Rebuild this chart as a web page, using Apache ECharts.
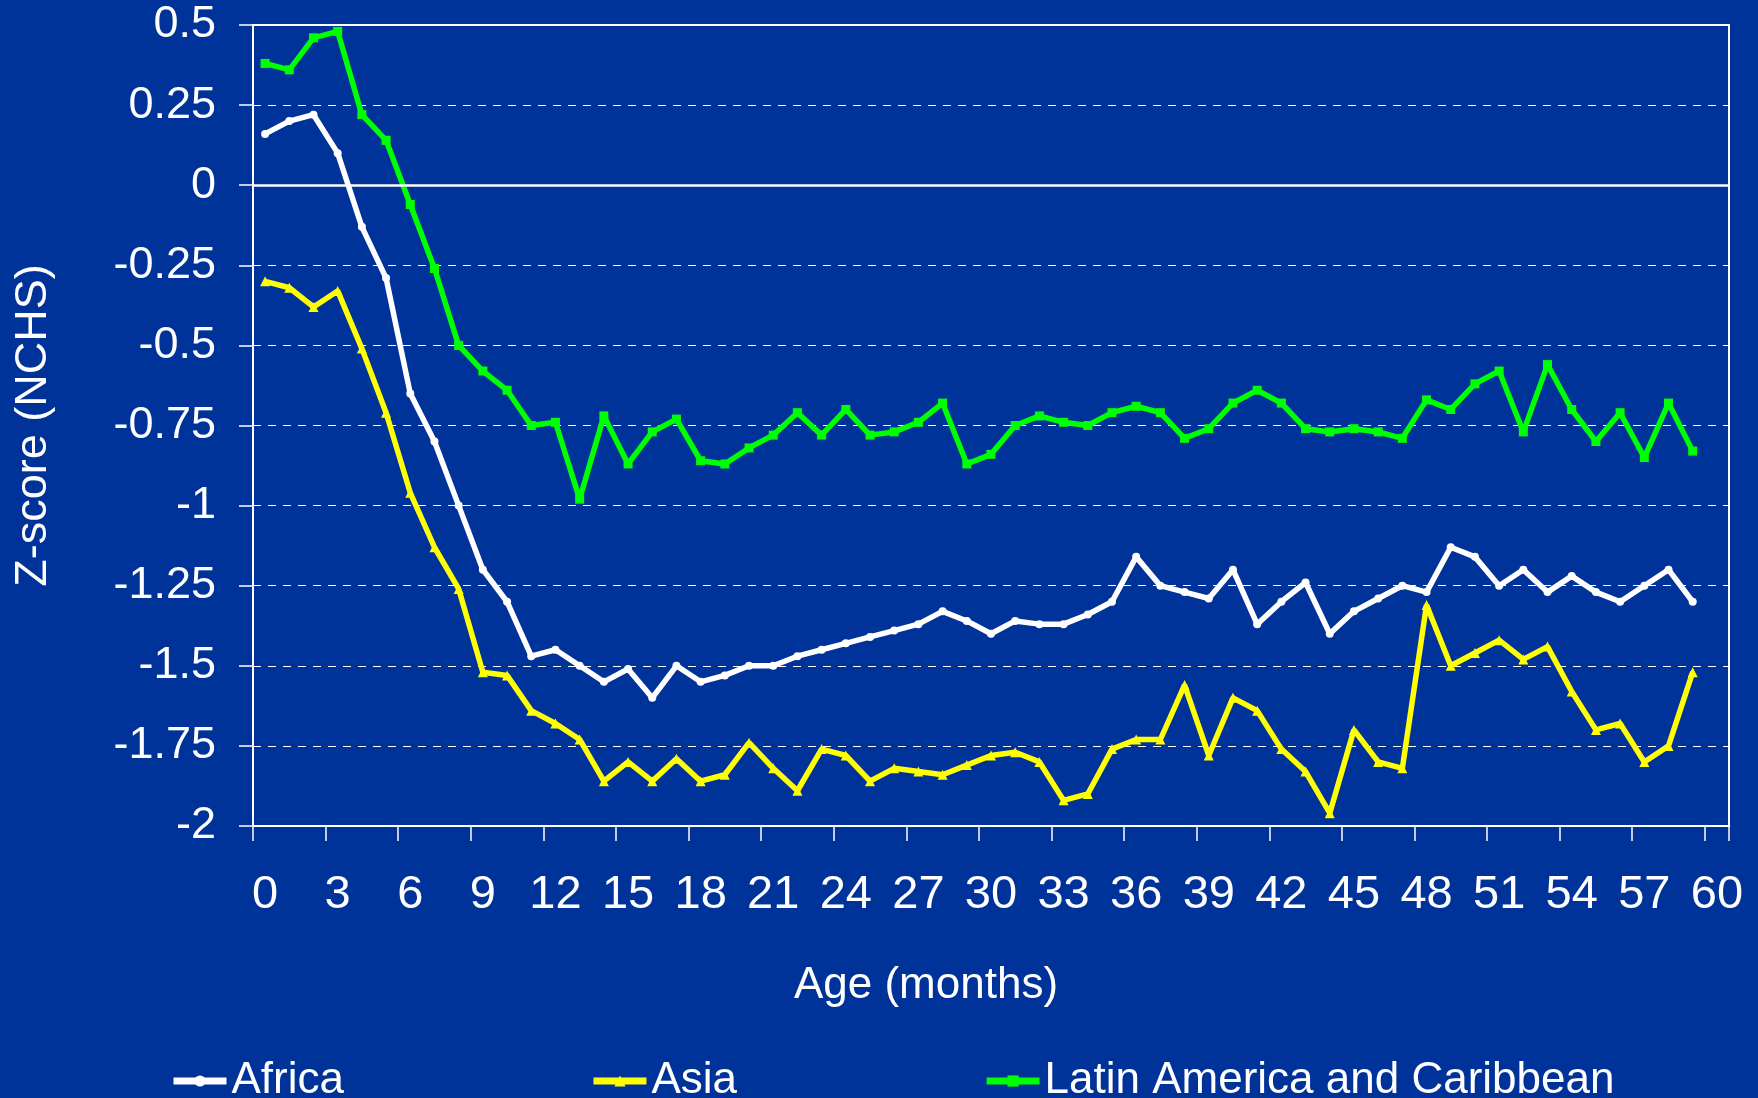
<!DOCTYPE html>
<html>
<head>
<meta charset="utf-8">
<title>Z-score by age</title>
<script src="https://cdn.jsdelivr.net/npm/echarts@6/dist/echarts.min.js"></script>
<style>
  html, body { margin: 0; padding: 0; background: #003399; }
  #chart { width: 1758px; height: 1098px; }
</style>
</head>
<body>
<div id="chart"></div>
<script>
// months 0..60 on the category axis (month 60 has no data)
var months = [];
for (var m = 0; m <= 60; m++) months.push(String(m));

var africa = [0.16, 0.20, 0.22, 0.10, -0.13, -0.29, -0.65, -0.80, -1.00, -1.20,
  -1.30, -1.47, -1.45, -1.50, -1.55, -1.51, -1.60, -1.50, -1.55, -1.53,
  -1.50, -1.50, -1.47, -1.45, -1.43, -1.41, -1.39, -1.37, -1.33, -1.36,
  -1.40, -1.36, -1.37, -1.37, -1.34, -1.30, -1.16, -1.25, -1.27, -1.29,
  -1.20, -1.37, -1.30, -1.24, -1.40, -1.33, -1.29, -1.25, -1.27, -1.13,
  -1.16, -1.25, -1.20, -1.27, -1.22, -1.27, -1.30, -1.25, -1.20, -1.30];

var asia = [-0.30, -0.32, -0.38, -0.33, -0.51, -0.71, -0.96, -1.13, -1.26, -1.52,
  -1.53, -1.64, -1.68, -1.73, -1.86, -1.80, -1.86, -1.79, -1.86, -1.84,
  -1.74, -1.82, -1.89, -1.76, -1.78, -1.86, -1.82, -1.83, -1.84, -1.81,
  -1.78, -1.77, -1.80, -1.92, -1.90, -1.76, -1.73, -1.73, -1.56, -1.78,
  -1.60, -1.64, -1.76, -1.83, -1.96, -1.70, -1.80, -1.82, -1.31, -1.50,
  -1.46, -1.42, -1.48, -1.44, -1.58, -1.70, -1.68, -1.80, -1.75, -1.52];

var latinAmerica = [0.38, 0.36, 0.46, 0.48, 0.22, 0.14, -0.06, -0.26, -0.50, -0.58,
  -0.64, -0.75, -0.74, -0.98, -0.72, -0.87, -0.77, -0.73, -0.86, -0.87,
  -0.82, -0.78, -0.71, -0.78, -0.70, -0.78, -0.77, -0.74, -0.68, -0.87,
  -0.84, -0.75, -0.72, -0.74, -0.75, -0.71, -0.69, -0.71, -0.79, -0.76,
  -0.68, -0.64, -0.68, -0.76, -0.77, -0.76, -0.77, -0.79, -0.67, -0.70,
  -0.62, -0.58, -0.77, -0.56, -0.70, -0.80, -0.71, -0.85, -0.68, -0.83];

var font = 'Liberation Sans, Arial, sans-serif';

var chart = echarts.init(document.getElementById('chart'));

var option = {
  backgroundColor: '#003399',
  animation: false,
  textStyle: { fontFamily: font, color: '#fff' },
  grid: {
    left: 253, top: 25, right: 29, bottom: 272,
    show: true, borderColor: '#fff', borderWidth: 2, backgroundColor: 'transparent'
  },
  legend: {
    left: 165, top: 1054,
    itemWidth: 53, itemHeight: 14, itemGap: 246,
    lineStyle: { width: 7 },
    textStyle: { color: '#fff', fontSize: 44, fontFamily: font },
    data: ['Africa', 'Asia', 'Latin America and Caribbean']
  },
  xAxis: {
    type: 'category',
    data: months,
    boundaryGap: true,
    name: 'Age (months)',
    nameLocation: 'middle',
    nameGap: 138,
    nameTextStyle: { color: '#fff', fontSize: 44, fontFamily: font, padding: [0, 130, 0, 0] },
    axisLine: { onZero: false, lineStyle: { color: '#fff', width: 2 } },
    axisTick: { show: true, interval: 2, length: 15, lineStyle: { color: '#fff', width: 1.5 } },
    axisLabel: { interval: 2, color: '#fff', fontSize: 47, fontFamily: font, margin: 46 },
    splitLine: { show: false }
  },
  yAxis: {
    type: 'value',
    min: -2, max: 0.5, interval: 0.25,
    name: 'Z-score (NCHS)',
    nameLocation: 'middle',
    nameGap: 197,
    nameTextStyle: { color: '#fff', fontSize: 45, fontFamily: font },
    axisLine: { show: true, lineStyle: { color: '#fff', width: 2 } },
    axisTick: { show: true, length: 14, lineStyle: { color: '#fff', width: 1.5 } },
    axisLabel: { color: '#fff', fontSize: 45, fontFamily: font, margin: 37 },
    splitLine: { show: true, lineStyle: { color: '#fff', width: 1, type: [8, 7] } }
  },
  series: [
    {
      name: 'Africa', type: 'line', data: africa,
      symbol: 'circle', symbolSize: 8,
      lineStyle: { color: '#fff', width: 5.5 },
      itemStyle: { color: '#fff' },
      markLine: {
        silent: true, symbol: ['none', 'none'],
        label: { show: false },
        lineStyle: { color: '#fff', type: 'solid', width: 2.5 },
        data: [{ yAxis: 0 }]
      }
    },
    {
      name: 'Asia', type: 'line', data: asia,
      symbol: 'triangle', symbolSize: 10,
      lineStyle: { color: '#ffff00', width: 5.5 },
      itemStyle: { color: '#ffff00' }
    },
    {
      name: 'Latin America and Caribbean', type: 'line', data: latinAmerica,
      symbol: 'rect', symbolSize: 9,
      lineStyle: { color: '#00ff00', width: 5.5 },
      itemStyle: { color: '#00ff00' }
    }
  ]
};

chart.setOption(option);
</script>
</body>
</html>
